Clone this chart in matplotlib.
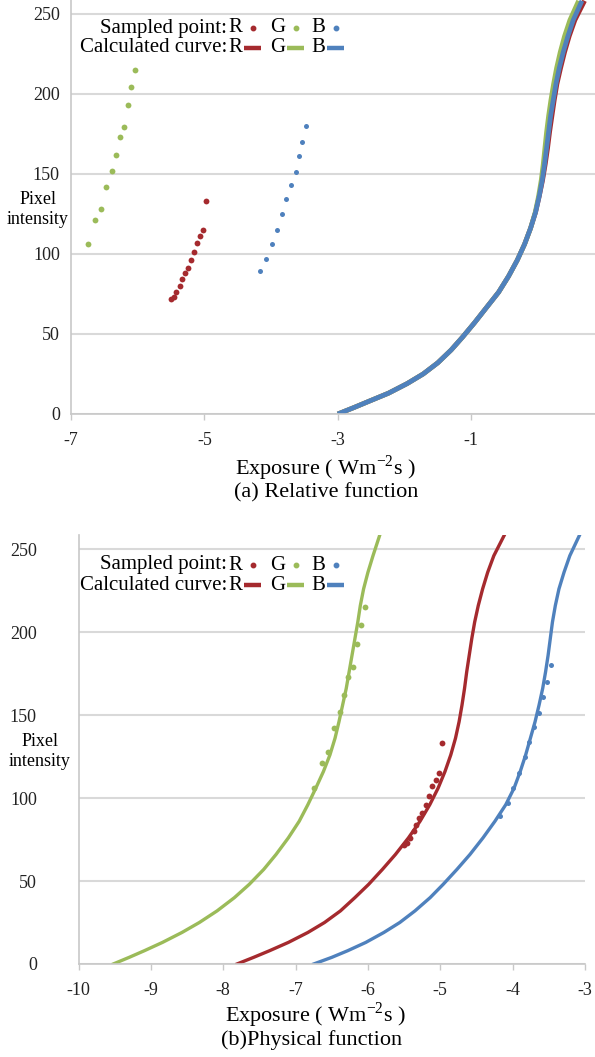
import numpy as np
import matplotlib
matplotlib.use("Agg")
import matplotlib.pyplot as plt
from matplotlib.lines import Line2D

# 曝光量(对数)与像素值的采样点
r_x = [-5.50, -5.46, -5.42, -5.37, -5.33, -5.29, -5.25, -5.20, -5.15, -5.11, -5.06, -5.02, -4.97]
r_y = [72, 73, 76, 80, 84, 88, 91, 96, 101, 107, 111, 115, 133]
g_x = [-6.74, -6.64, -6.555, -6.475, -6.39, -6.33, -6.27, -6.205, -6.15, -6.095, -6.04]
g_y = [106, 121, 128, 142, 152, 162, 173, 179, 193, 204, 215]
b_x = [-4.17, -4.07, -3.99, -3.91, -3.83, -3.77, -3.70, -3.63, -3.58, -3.53, -3.47]
b_y = [89, 97, 106, 115, 125, 134, 143, 151, 161, 170, 180]

# 响应曲线的像素值节点
curve_y = [0, 4, 8, 13, 19, 25, 32, 40, 48, 57, 66, 76, 86, 96, 106, 116, 126, 136, 146,
           156, 166, 176, 186, 196, 206, 216, 226, 236, 246, 258]

# (a) 相对响应函数
rel_r = [-3.00, -2.76, -2.53, -2.24, -1.96, -1.72, -1.50, -1.30, -1.13, -0.95, -0.78, -0.59,
         -0.44, -0.31, -0.20, -0.11, -0.035, 0.02, 0.07, 0.11, 0.145, 0.175, 0.21, 0.245, 0.285,
         0.34, 0.40, 0.47, 0.555, 0.70]
rel_g = [-3.00, -2.76, -2.53, -2.24, -1.96, -1.72, -1.50, -1.30, -1.13, -0.95, -0.78, -0.59,
         -0.44, -0.31, -0.20, -0.11, -0.04, 0.01, 0.05, 0.08, 0.105, 0.13, 0.16, 0.195, 0.235,
         0.28, 0.335, 0.40, 0.48, 0.61]
rel_b = [-3.00, -2.76, -2.53, -2.24, -1.96, -1.72, -1.50, -1.30, -1.13, -0.95, -0.78, -0.59,
         -0.44, -0.31, -0.20, -0.11, -0.035, 0.02, 0.065, 0.10, 0.13, 0.16, 0.19, 0.23, 0.27,
         0.32, 0.38, 0.45, 0.53, 0.66]

# (b) 物理响应函数
phy_r = [-7.81, -7.58, -7.36, -7.10, -6.83, -6.60, -6.38, -6.18, -5.99, -5.80, -5.62, -5.44,
         -5.28, -5.145, -5.03, -4.935, -4.855, -4.79, -4.74, -4.70, -4.665, -4.635, -4.60,
         -4.565, -4.525, -4.475, -4.415, -4.345, -4.26, -4.12]
phy_g = [-9.52, -9.30, -9.09, -8.84, -8.57, -8.33, -8.085, -7.845, -7.64, -7.44, -7.27, -7.10,
         -6.95, -6.83, -6.72, -6.615, -6.525, -6.455, -6.40, -6.35, -6.30, -6.26, -6.22, -6.18,
         -6.14, -6.105, -6.06, -6.00, -5.93, -5.84]
phy_b = [-6.75, -6.50, -6.28, -6.03, -5.78, -5.56, -5.35, -5.14, -4.96, -4.77, -4.59, -4.41,
         -4.245, -4.095, -3.98, -3.895, -3.82, -3.755, -3.69, -3.635, -3.585, -3.545, -3.51,
         -3.48, -3.45, -3.41, -3.36, -3.29, -3.21, -3.08]

c_r = "#A52A2E"
c_g = "#9BBB59"
c_b = "#4F81BD"
grid_c = "#D9D9D9"

plt.rcParams["font.family"] = ["Liberation Serif", "DejaVu Serif"]
plt.rcParams["mathtext.fontset"] = "custom"
plt.rcParams["mathtext.rm"] = "Liberation Serif"
plt.rcParams["axes.unicode_minus"] = False

W, H = 595, 1057
fig = plt.figure(figsize=(W / 100, H / 100), dpi=100)


def px_rect(x0, y_top, x1, y_bot):
    return [x0 / W, 1 - y_bot / H, (x1 - x0) / W, (y_bot - y_top) / H]


def style_axes(ax, ypad):
    ax.set_ylim(0, 258.5)
    ax.set_yticks([0, 50, 100, 150, 200, 250])
    ax.grid(axis="y", color=grid_c, lw=1.5)
    ax.set_axisbelow(True)
    for s in ["top", "right"]:
        ax.spines[s].set_visible(False)
    for s in ["left", "bottom"]:
        ax.spines[s].set_color("#C8C8C8")
        ax.spines[s].set_linewidth(1.2)
    ax.tick_params(axis="y", length=0, pad=ypad, labelsize=13, colors="#222222")
    ax.tick_params(axis="x", length=4, width=1, color="#C8C8C8", pad=9, labelsize=13,
                   labelcolor="#222222")


def legend_block(y0):
    y1 = y0 + 20
    fig.text(227 / W, 1 - y0 / H, "Sampled point:", ha="right", va="center", fontsize=15)
    fig.text(227 / W, 1 - y1 / H, "Calculated curve:", ha="right", va="center", fontsize=15)
    for lab, cx, c in [("R", 235, c_r), ("G", 278, c_g), ("B", 318, c_b)]:
        fig.text(cx / W, 1 - y0 / H, lab, ha="center", va="center", fontsize=15)
        fig.text(cx / W, 1 - y1 / H, lab, ha="center", va="center", fontsize=15)
        fig.add_artist(Line2D([(cx + 18) / W], [1 - y0 / H], marker="o", ms=3.2, color=c, lw=0))
        fig.add_artist(Line2D([(cx + 9) / W, (cx + 26) / W], [1 - y1 / H, 1 - y1 / H],
                              color=c, lw=3.2, solid_capstyle="butt"))


# (a) Relative function
ax1 = fig.add_axes(px_rect(71, 0, 595, 414))
style_axes(ax1, 8)
ax1.set_xlim(-7, 0.856)
ax1.set_xticks([-7, -5, -3, -1])
ax1.plot(rel_r, curve_y, color=c_r, lw=3.4, solid_capstyle="butt")
ax1.plot(rel_g, curve_y, color=c_g, lw=3.4, solid_capstyle="butt")
ax1.plot(rel_b, curve_y, color=c_b, lw=3.4, solid_capstyle="butt")
ax1.plot(r_x, r_y, "o", color=c_r, ms=4.2, mew=0)
ax1.plot(g_x, g_y, "o", color=c_g, ms=4.2, mew=0)
ax1.plot(b_x, b_y, "o", color=c_b, ms=3.6, mew=0)

fig.text(38 / W, 1 - 200 / H, "Pixel", ha="center", va="center", fontsize=13)
fig.text(38 / W, 1 - 220 / H, "intensity", ha="center", va="center", fontsize=13)
legend_block(28)
fig.text(325 / W, 1 - 468 / H, "Exposure ( Wm$^{-2}$s )", ha="center", va="center", fontsize=16)
fig.text(326 / W, 1 - 493 / H, "(a) Relative function", ha="center", va="center", fontsize=16)

# (b) Physical function
ax2 = fig.add_axes(px_rect(78.5, 535, 585, 964))
style_axes(ax2, 30)
ax2.set_xlim(-10, -3)
ax2.set_xticks(np.arange(-10, -2))
ax2.plot(phy_g, curve_y, color=c_g, lw=2.4)
ax2.plot(phy_r, curve_y, color=c_r, lw=2.4)
ax2.plot(phy_b, curve_y, color=c_b, lw=2.4)
ax2.plot(r_x, r_y, "o", color=c_r, ms=4.2, mew=0)
ax2.plot(g_x, g_y, "o", color=c_g, ms=4.2, mew=0)
ax2.plot(b_x, b_y, "o", color=c_b, ms=3.6, mew=0)

fig.text(40 / W, 1 - 742 / H, "Pixel", ha="center", va="center", fontsize=13)
fig.text(40 / W, 1 - 762 / H, "intensity", ha="center", va="center", fontsize=13)
legend_block(565)
fig.text(315 / W, 1 - 1015 / H, "Exposure ( Wm$^{-2}$s )", ha="center", va="center", fontsize=16)
fig.text(312 / W, 1 - 1040 / H, "(b)Physical function", ha="center", va="center", fontsize=16)

fig.savefig("out.png", dpi=100)
